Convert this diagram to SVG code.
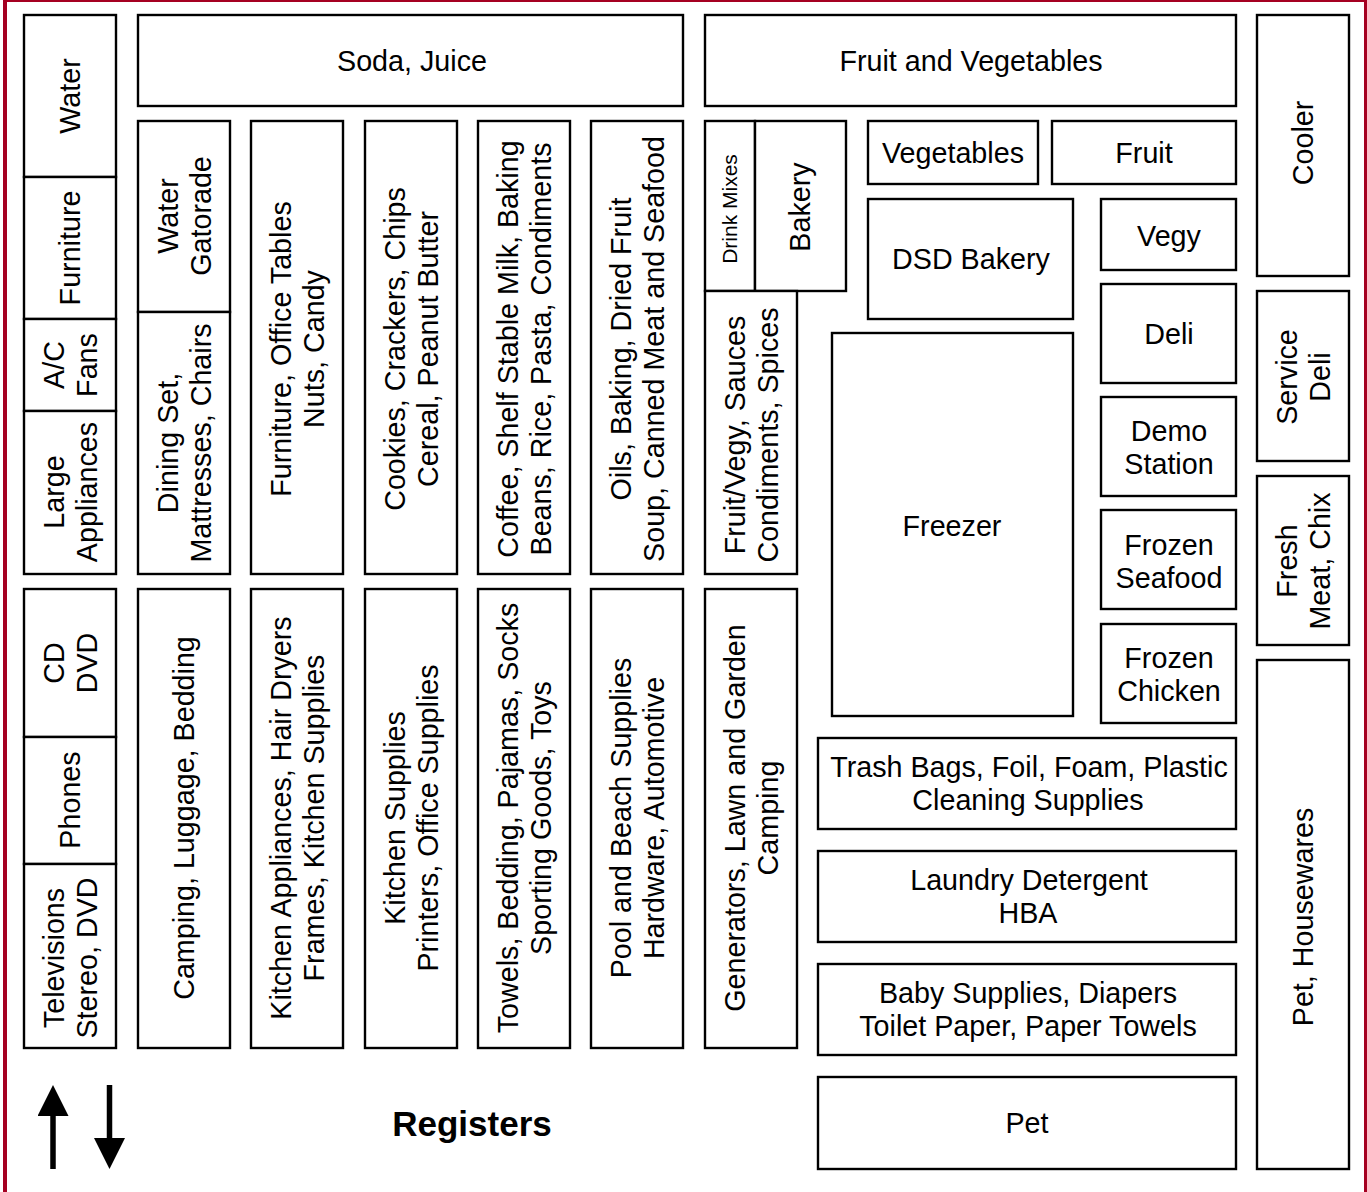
<svg xmlns="http://www.w3.org/2000/svg" width="1367" height="1192" viewBox="0 0 1367 1192">
<style>
.box{fill:#fff;stroke:#000;stroke-width:2.4}
.t{font-family:"Liberation Sans",Arial,sans-serif;font-size:28.7px;text-anchor:middle;fill:#000}
.s{font-size:21px}
.b{font-weight:bold;font-size:35px}
.frame{fill:none;stroke:#a50021;stroke-width:4}
.arr{stroke:#000;stroke-width:5.5;fill:none}
</style>
<defs>
<marker id="head" markerUnits="userSpaceOnUse" markerWidth="31" markerHeight="31" viewBox="0 0 31 31" refX="0" refY="15.5" orient="auto">
<path d="M0,0 L31,15.5 L0,31 z" fill="#000"/>
</marker>
</defs>
<rect width="1367" height="1192" fill="#fff"/>
<rect class="frame" x="5" y="0" width="1361" height="1196"/>

<g id="water"><rect class="box" x="24" y="15" width="92" height="162"/><text class="t" transform="translate(70,96) rotate(-90)" y="10">Water</text></g>
<g id="furniture"><rect class="box" x="24" y="177" width="92" height="142"/><text class="t" transform="translate(70,248) rotate(-90)" y="10">Furniture</text></g>
<g id="ac-fans"><rect class="box" x="24" y="319" width="92" height="92"/><text class="t" transform="translate(70,365) rotate(-90)"><tspan x="0" y="-6.5">A/C</tspan><tspan x="0" y="26.5">Fans</tspan></text></g>
<g id="large-appliances"><rect class="box" x="24" y="411" width="92" height="163"/><text class="t" transform="translate(70,492) rotate(-90)"><tspan x="0" y="-6.5">Large</tspan><tspan x="0" y="26.5">Appliances</tspan></text></g>
<g id="cd-dvd"><rect class="box" x="24" y="589" width="92" height="148"/><text class="t" transform="translate(70,663) rotate(-90)"><tspan x="0" y="-6.5">CD</tspan><tspan x="0" y="26.5">DVD</tspan></text></g>
<g id="phones"><rect class="box" x="24" y="737" width="92" height="127"/><text class="t" transform="translate(70,800) rotate(-90)" y="10">Phones</text></g>
<g id="televisions"><rect class="box" x="24" y="864" width="92" height="184"/><text class="t" transform="translate(70,958) rotate(-90)"><tspan x="0" y="-6.5">Televisions</tspan><tspan x="0" y="26.5">Stereo, DVD</tspan></text></g>

<g id="soda-juice"><rect class="box" x="138" y="15" width="545" height="91"/><text class="t" x="412" y="71">Soda, Juice</text></g>
<g id="water-gatorade"><rect class="box" x="138" y="121" width="92" height="191"/><text class="t" transform="translate(184,216) rotate(-90)"><tspan x="0" y="-6.5">Water</tspan><tspan x="0" y="26.5">Gatorade</tspan></text></g>
<g id="dining-set"><rect class="box" x="138" y="312" width="92" height="262"/><text class="t" transform="translate(184,443) rotate(-90)"><tspan x="0" y="-6.5">Dining Set,</tspan><tspan x="0" y="26.5">Mattresses, Chairs</tspan></text></g>
<g id="furniture-office"><rect class="box" x="251" y="121" width="92" height="453"/><text class="t" transform="translate(297,349) rotate(-90)"><tspan x="0" y="-6.5">Furniture, Office Tables</tspan><tspan x="0" y="26.5">Nuts, Candy</tspan></text></g>
<g id="cookies"><rect class="box" x="365" y="121" width="92" height="453"/><text class="t" transform="translate(411,349) rotate(-90)"><tspan x="0" y="-6.5">Cookies, Crackers, Chips</tspan><tspan x="0" y="26.5">Cereal, Peanut Butter</tspan></text></g>
<g id="coffee"><rect class="box" x="478" y="121" width="92" height="453"/><text class="t" transform="translate(524,349) rotate(-90)"><tspan x="0" y="-6.5">Coffee, Shelf Stable Milk, Baking</tspan><tspan x="0" y="26.5">Beans, Rice, Pasta, Condiments</tspan></text></g>
<g id="oils"><rect class="box" x="591" y="121" width="92" height="453"/><text class="t" transform="translate(637,349) rotate(-90)"><tspan x="0" y="-6.5">Oils, Baking, Dried Fruit</tspan><tspan x="0" y="26.5">Soup, Canned Meat and Seafood</tspan></text></g>

<g id="camping"><rect class="box" x="138" y="589" width="92" height="459"/><text class="t" transform="translate(184,818) rotate(-90)" y="10">Camping, Luggage, Bedding</text></g>
<g id="kitchen-appliances"><rect class="box" x="251" y="589" width="92" height="459"/><text class="t" transform="translate(297,818) rotate(-90)"><tspan x="0" y="-6.5">Kitchen Appliances, Hair Dryers</tspan><tspan x="0" y="26.5">Frames, Kitchen Supplies</tspan></text></g>
<g id="kitchen-supplies"><rect class="box" x="365" y="589" width="92" height="459"/><text class="t" transform="translate(411,818) rotate(-90)"><tspan x="0" y="-6.5">Kitchen Supplies</tspan><tspan x="0" y="26.5">Printers, Office Supplies</tspan></text></g>
<g id="towels"><rect class="box" x="478" y="589" width="92" height="459"/><text class="t" transform="translate(524,818) rotate(-90)"><tspan x="0" y="-6.5">Towels, Bedding, Pajamas, Socks</tspan><tspan x="0" y="26.5">Sporting Goods, Toys</tspan></text></g>
<g id="pool"><rect class="box" x="591" y="589" width="92" height="459"/><text class="t" transform="translate(637,818) rotate(-90)"><tspan x="0" y="-6.5">Pool and Beach Supplies</tspan><tspan x="0" y="26.5">Hardware, Automotive</tspan></text></g>
<g id="generators"><rect class="box" x="705" y="589" width="92" height="459"/><text class="t" transform="translate(751,818) rotate(-90)"><tspan x="0" y="-6.5">Generators, Lawn and Garden</tspan><tspan x="0" y="26.5">Camping</tspan></text></g>

<g id="fruit-and-vegetables"><rect class="box" x="705" y="15" width="531" height="91"/><text class="t" x="971" y="71">Fruit and Vegetables</text></g>
<g id="drink-mixes"><rect class="box" x="705" y="121" width="50" height="170"/><text class="t s" transform="translate(730,209) rotate(-90)" y="7.4">Drink Mixes</text></g>
<g id="bakery"><rect class="box" x="755" y="121" width="91" height="170"/><text class="t" transform="translate(800,207) rotate(-90)" y="10">Bakery</text></g>
<g id="fruit-vegy-sauces"><rect class="box" x="705" y="291" width="92" height="283"/><text class="t" transform="translate(751,435) rotate(-90)"><tspan x="0" y="-6.5">Fruit/Vegy, Sauces</tspan><tspan x="0" y="26.5">Condiments, Spices</tspan></text></g>
<g id="vegetables"><rect class="box" x="868" y="121" width="170" height="63"/><text class="t" x="953" y="163">Vegetables</text></g>
<g id="fruit"><rect class="box" x="1052" y="121" width="184" height="63"/><text class="t" x="1144" y="163">Fruit</text></g>
<g id="dsd-bakery"><rect class="box" x="868" y="199" width="205" height="120"/><text class="t" x="971" y="269">DSD Bakery</text></g>
<g id="vegy"><rect class="box" x="1101" y="199" width="135" height="71"/><text class="t" x="1169" y="246">Vegy</text></g>
<g id="deli"><rect class="box" x="1101" y="284" width="135" height="99"/><text class="t" x="1169" y="344">Deli</text></g>
<g id="demo-station"><rect class="box" x="1101" y="397" width="135" height="99"/><text class="t"><tspan x="1169" y="441">Demo</tspan><tspan x="1169" y="474">Station</tspan></text></g>
<g id="frozen-seafood"><rect class="box" x="1101" y="510" width="135" height="99"/><text class="t"><tspan x="1169" y="555">Frozen</tspan><tspan x="1169" y="588">Seafood</tspan></text></g>
<g id="frozen-chicken"><rect class="box" x="1101" y="624" width="135" height="99"/><text class="t"><tspan x="1169" y="668">Frozen</tspan><tspan x="1169" y="701">Chicken</tspan></text></g>
<g id="freezer"><rect class="box" x="832" y="333" width="241" height="383"/><text class="t" x="952" y="536">Freezer</text></g>
<g id="trash-bags"><rect class="box" x="818" y="738" width="418" height="91"/><text class="t"><tspan x="1029" y="777">Trash Bags, Foil, Foam, Plastic</tspan><tspan x="1028" y="810">Cleaning Supplies</tspan></text></g>
<g id="laundry"><rect class="box" x="818" y="851" width="418" height="91"/><text class="t"><tspan x="1029" y="890">Laundry Detergent</tspan><tspan x="1028" y="923">HBA</tspan></text></g>
<g id="baby-supplies"><rect class="box" x="818" y="964" width="418" height="91"/><text class="t"><tspan x="1028" y="1003">Baby Supplies, Diapers</tspan><tspan x="1028" y="1036">Toilet Paper, Paper Towels</tspan></text></g>
<g id="pet"><rect class="box" x="818" y="1077" width="418" height="92"/><text class="t" x="1027" y="1133">Pet</text></g>

<g id="cooler"><rect class="box" x="1257" y="15" width="92" height="261"/><text class="t" transform="translate(1303,143) rotate(-90)" y="10">Cooler</text></g>
<g id="service-deli"><rect class="box" x="1257" y="291" width="92" height="170"/><text class="t" transform="translate(1303,377) rotate(-90)"><tspan x="0" y="-6.5">Service</tspan><tspan x="0" y="26.5">Deli</tspan></text></g>
<g id="fresh-meat"><rect class="box" x="1257" y="476" width="92" height="169"/><text class="t" transform="translate(1303,561) rotate(-90)"><tspan x="0" y="-6.5">Fresh</tspan><tspan x="0" y="26.5">Meat, Chix</tspan></text></g>
<g id="pet-housewares"><rect class="box" x="1257" y="660" width="92" height="509"/><text class="t" transform="translate(1303,917) rotate(-90)" y="10">Pet, Housewares</text></g>

<g id="registers"><text class="t b" x="472" y="1136">Registers</text></g>

<g id="connectors">
<line class="arr" x1="53" y1="1169" x2="53" y2="1116" marker-end="url(#head)"/>
<line class="arr" x1="109.5" y1="1085" x2="109.5" y2="1138" marker-end="url(#head)"/>
</g>
</svg>
